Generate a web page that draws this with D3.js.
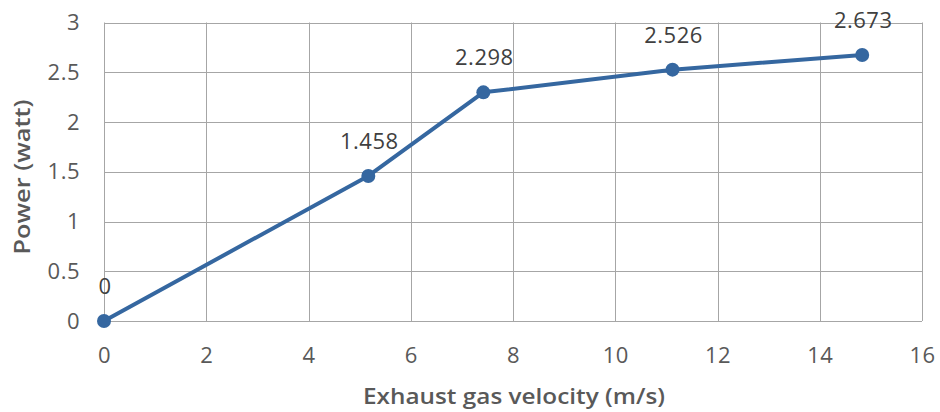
<!DOCTYPE html>
<html>
<head>
<meta charset="utf-8">
<script src="https://cdn.jsdelivr.net/npm/d3@7"></script>
<style>
  body { margin: 0; background: #fff; }
  text { font-family: "Open Sans", sans-serif; }
</style>
</head>
<body>
<div id="chart"></div>
<script>
// data
const velocity = [0, 5.17, 7.42, 11.12, 14.83];
const power = [0, 1.458, 2.298, 2.526, 2.673];
const pointLabels = ["0", "1.458", "2.298", "2.526", "2.673"];
const xTicks = [0, 2, 4, 6, 8, 10, 12, 14, 16];
const yTicks = [0, 0.5, 1, 1.5, 2, 2.5, 3];

const width = 940, height = 412;
const margin = {top: 22.5, right: 18, bottom: 91, left: 104};

const svg = d3.select('#chart').append('svg')
    .attr('width', width)
    .attr('height', height);

const x = d3.scaleLinear().domain([0, 16]).range([margin.left, width - margin.right]);
const y = d3.scaleLinear().domain([0, 3]).range([height - margin.bottom, margin.top]);

// grid
svg.append('g')
    .selectAll('line')
    .data(xTicks).enter()
    .append('line')
    .attr('x1', d => Math.round(x(d)) + 0.5).attr('x2', d => Math.round(x(d)) + 0.5)
    .attr('y1', y(0)).attr('y2', y(3))
    .attr('stroke', '#a6a6a6');
svg.append('g')
    .selectAll('line')
    .data(yTicks).enter()
    .append('line')
    .attr('y1', d => Math.round(y(d)) + 0.5).attr('y2', d => Math.round(y(d)) + 0.5)
    .attr('x1', x(0)).attr('x2', x(16))
    .attr('stroke', '#a6a6a6');

// axes (text only)
const xAxis = svg.append('g')
    .attr('transform', 'translate(0,' + y(0) + ')')
    .call(d3.axisBottom(x).tickValues(xTicks).tickSize(0).tickPadding(26).tickFormat(d3.format('d')));
const yAxis = svg.append('g')
    .attr('transform', 'translate(' + x(0) + ',0)')
    .call(d3.axisLeft(y).tickValues(yTicks).tickSize(0).tickPadding(24).tickFormat(d => String(d)));
[xAxis, yAxis].forEach(a => {
    a.select('.domain').remove();
    a.selectAll('text')
        .style('font-size', '22px')
        .style('font-family', '"Open Sans", sans-serif')
        .style('letter-spacing', '0.5px')
        .attr('fill', '#595959');
});

// axis titles
svg.append('text')
    .attr('x', 514)
    .attr('y', 404)
    .attr('text-anchor', 'middle')
    .attr('font-size', '22px')
    .attr('font-weight', 600)
    .attr('fill', '#595959')
    .attr('textLength', 302)
    .attr('lengthAdjust', 'spacingAndGlyphs')
    .text('Exhaust gas velocity (m/s)');
svg.append('text')
    .attr('transform', 'translate(30,177) rotate(-90)')
    .attr('text-anchor', 'middle')
    .attr('font-size', '22px')
    .attr('font-weight', 600)
    .attr('fill', '#595959')
    .attr('textLength', 155)
    .attr('lengthAdjust', 'spacingAndGlyphs')
    .text('Power (watt)');

// line
const pts = velocity.map((v, i) => ({x: v, y: power[i], label: pointLabels[i]}));
svg.append('path')
    .datum(pts)
    .attr('fill', 'none')
    .attr('stroke', '#3567a0')
    .attr('stroke-width', 4)
    .attr('stroke-linejoin', 'round')
    .attr('d', d3.line().x(d => x(d.x)).y(d => y(d.y)));

svg.append('g')
    .selectAll('circle')
    .data(pts).enter()
    .append('circle')
    .attr('cx', d => x(d.x))
    .attr('cy', d => y(d.y))
    .attr('r', 7)
    .attr('fill', '#3567a0');

svg.append('g')
    .selectAll('text')
    .data(pts).enter()
    .append('text')
    .attr('x', d => x(d.x) + 1)
    .attr('y', d => y(d.y) - 27)
    .attr('text-anchor', 'middle')
    .attr('font-size', '22px')
    .style('letter-spacing', '0.5px')
    .attr('fill', '#404040')
    .text(d => d.label);
</script>
</body>
</html>
